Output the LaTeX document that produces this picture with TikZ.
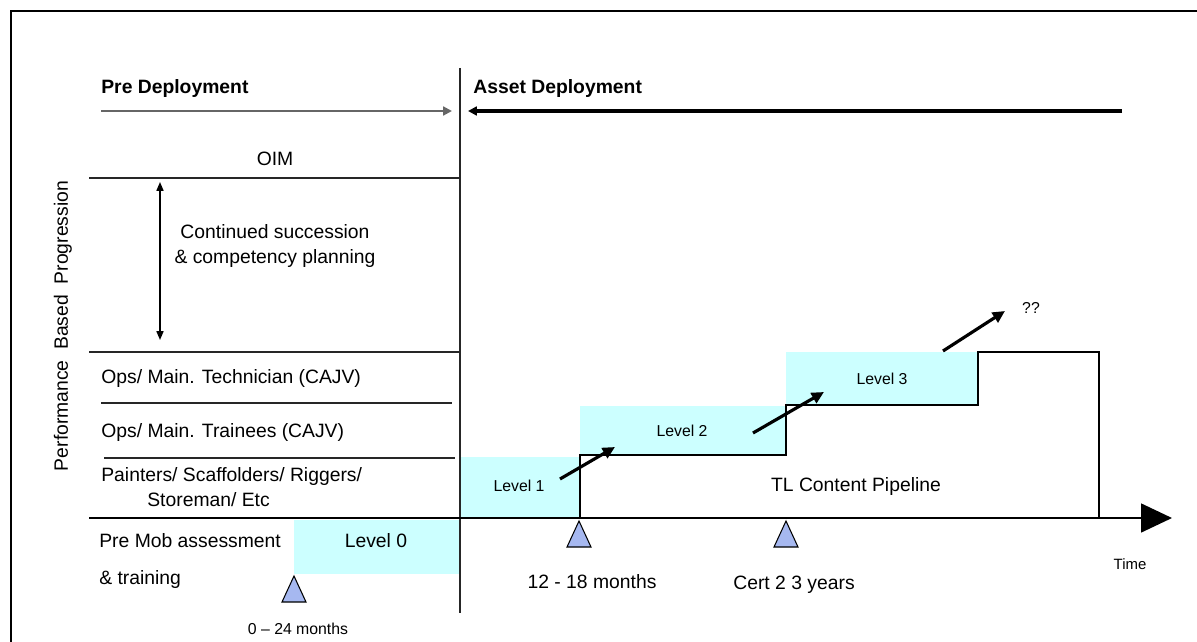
\documentclass[tikz,border=0pt]{standalone}
\usepackage{fontspec}
\setmainfont{Liberation Sans}
\usetikzlibrary{arrows.meta}

\definecolor{levelcyan}{RGB}{204,255,255}
\definecolor{markblue}{RGB}{166,184,240}

\tikzset{
    rowtext/.style={font=\fontsize{11}{14}\selectfont, inner sep=0pt},
    smalltext/.style={font=\fontsize{9}{11}\selectfont, inner sep=0pt},
    gridline/.style={line width=0.8pt, black!85},
    climb/.style={line width=1.8pt, -{Triangle[length=7pt, width=6.5pt]}},
    milestone/.style={draw, fill=markblue, line width=0.6pt},
}

\begin{document}
\begin{tikzpicture}[x=0.02cm, y=-0.02cm]
    \useasboundingbox (0,0) rectangle (1197,642);
    \def\axisY{518}
    \def\split{460}

    % Frame
    \draw[line width=1.1pt] (11,642) -- (11,11) -- (1197,11);

    % Level boxes
    \fill[levelcyan] (294,520) rectangle (\split,574);
    \fill[levelcyan] (\split,457) rectangle (580,\axisY);
    \fill[levelcyan] (580,406) rectangle (786,455);
    \fill[levelcyan] (786,352) rectangle (978,405);

    % Headings
    \node[rowtext, font=\fontsize{11}{14}\selectfont\bfseries, anchor=west] (pre) at (101,89) {Pre Deployment};
    \node[rowtext, font=\fontsize{11}{14}\selectfont\bfseries, anchor=west] (asset) at (473,89) {Asset Deployment};
    \coordinate (preStart) at (101,111);
    \coordinate (preEnd) at (452,111);
    \coordinate (assetStart) at (1122,111);
    \coordinate (assetEnd) at (468,111);
    \draw[line width=1.2pt, black!60, -{Triangle[length=5pt, width=5pt]}] (preStart) -- (preEnd);
    \draw[line width=2.3pt, -{Triangle[length=5pt, width=5pt]}] (assetStart) -- (assetEnd);

    % Divider
    \draw[gridline] (\split,68) -- (\split,613);

    % Row lines
    \foreach \y/\xa/\xb in {178/89/460, 352/89/460, 403/101/452, 458/104/455} {
        \draw[gridline] (\xa,\y) -- (\xb,\y);
    }

    % Rows
    \node[rowtext] (oim) at (275,159) {OIM};
    \node[rowtext, align=center] (succession) at (275,246) {Continued succession\\\& competency planning};
    \coordinate (oimTop) at (160,182);
    \coordinate (oimBottom) at (160,340);
    \draw[line width=0.8pt, {Triangle[length=5pt, width=4pt]}-{Triangle[length=5pt, width=4pt]}] (oimTop) -- (oimBottom);
    \node[rowtext, anchor=west] (technician) at (101,379) {Ops/ Main. Technician (CAJV)};
    \node[rowtext, anchor=west] (trainees) at (101,432) {Ops/ Main. Trainees (CAJV)};
    \node[rowtext, anchor=west] (painters) at (101,476) {Painters/ Scaffolders/ Riggers/};
    \node[rowtext, anchor=west] (storeman) at (147,500) {Storeman/ Etc};
    \node[rowtext, anchor=west] (premob) at (99,541) {Pre Mob assessment};
    \node[rowtext, anchor=west] (training) at (99,579) {\& training};

    % Left axis label
    \node[rowtext, rotate=90] (progression) at (63,326) {Performance\ \ Based\ \ Progression};

    % Time axis
    \coordinate (axisStart) at (89,\axisY);
    \coordinate (axisEnd) at (1172,\axisY);
    \draw[line width=0.9pt, -{Triangle[length=0.62cm, width=0.58cm]}] (axisStart) -- (axisEnd);
    \node[smalltext, font=\fontsize{8.5}{10}\selectfont] (time) at (1130,564) {Time};

    % Steps
    \draw[line width=0.8pt]
        (580,\axisY) -- (580,455) -- (786,455) -- (786,405)
        -- (978,405) -- (978,352) -- (1099,352) -- (1099,\axisY);

    % Levels
    \node[rowtext] (level0) at (376,541) {Level 0};
    \node[smalltext] (level1) at (519,486) {Level 1};
    \node[smalltext] (level2) at (682,431) {Level 2};
    \node[smalltext] (level3) at (882,379) {Level 3};
    \node[rowtext] (pipeline) at (856,486) {TL Content Pipeline};

    % Climb arrows
    \coordinate (climbA) at (560,479);
    \coordinate (climbB) at (615,447);
    \coordinate (climbC) at (753,433);
    \coordinate (climbD) at (824,392);
    \coordinate (climbE) at (943,351);
    \coordinate (climbF) at (1005,311);
    \draw[climb] (climbA) -- (climbB);
    \draw[climb] (climbC) -- (climbD);
    \draw[climb] (climbE) -- (climbF);
    \node[smalltext] (unknown) at (1031,308) {??};

    % Milestones
    \foreach \x/\y in {294/576, 579/521, 786/521} {
        \draw[milestone] (\x,\y) -- ++(12,26) -- ++(-24,0) -- cycle;
    }
    \node[smalltext] (months0) at (298,629) {0 -- 24 months};
    \node[rowtext] (months12) at (592,582) {12 - 18 months};
    \node[rowtext] (cert) at (794,585) {Cert 2 3 years};
\end{tikzpicture}
\end{document}
